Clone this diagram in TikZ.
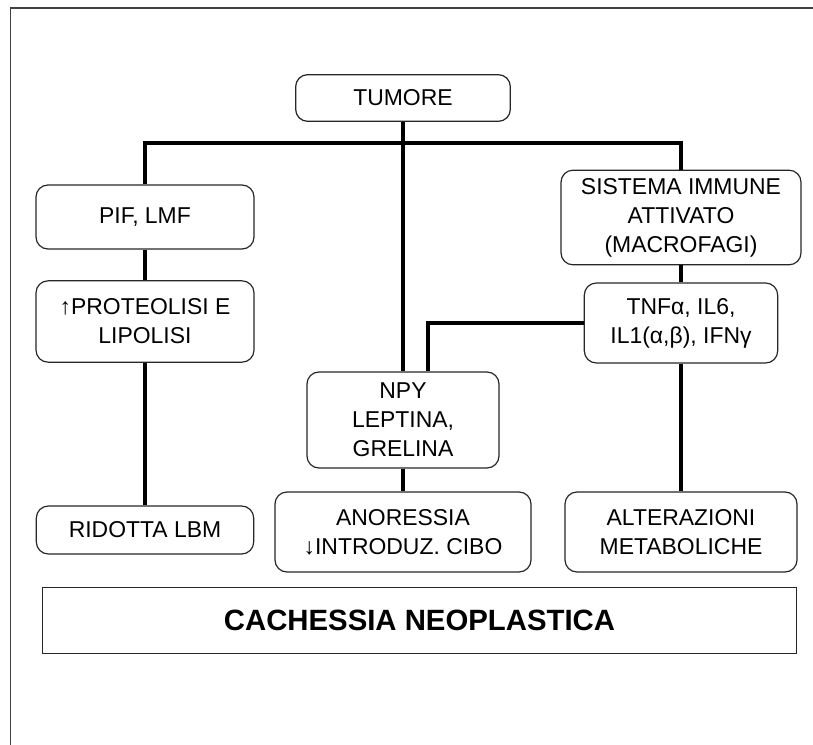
\documentclass[tikz,border=0pt]{standalone}
\usepackage{fontspec}
\setmainfont{Liberation Sans}
\begin{document}
\begin{tikzpicture}[x=0.75pt,y=-0.75pt,
  box/.style={draw=black!85,line width=0.9pt,rounded corners=9pt,align=center,
    font=\fontsize{17.2}{21.8}\selectfont,inner sep=0pt},
  conn/.style={line width=2.3pt,black}]
\path[use as bounding box] (0,0) rectangle (813,745);
% outer frame
\draw[black!75,line width=1.2pt] (10.5,745) -- (10.5,8) -- (813,8);
% nodes
\node[box,minimum width=161pt,minimum height=35pt] (tumore) at (403,98) {TUMORE};
\node[box,minimum width=163.5pt,minimum height=48pt] (pif) at (145,217) {PIF, LMF};
\node[box,minimum width=163.5pt,minimum height=61pt] (prot) at (145,321.5) {↑PROTEOLISI E\\LIPOLISI};
\node[box,minimum width=163pt,minimum height=36pt] (rid) at (145,530) {RIDOTTA LBM};
\node[box,minimum width=180pt,minimum height=71pt] (sist) at (681,217.5) {SISTEMA IMMUNE\\ATTIVATO\\(MACROFAGI)};
\node[box,minimum width=145pt,minimum height=60pt] (tnf) at (681,323) {TNFα, IL6,\\IL1(α,β), IFNγ};
\node[box,minimum width=144pt,minimum height=72pt] (npy) at (403,420) {NPY\\LEPTINA,\\GRELINA};
\node[box,minimum width=192pt,minimum height=60pt] (anor) at (403,532) {ANORESSIA\\↓INTRODUZ. CIBO};
\node[box,minimum width=174pt,minimum height=60pt] (alter) at (681,532) {ALTERAZIONI\\METABOLICHE};
\node[draw=black!85,line width=0.9pt,minimum width=565pt,minimum height=49pt,inner sep=0pt,
  font=\fontsize{22}{26}\selectfont\bfseries] (cach) at (419.5,620.5) {CACHESSIA NEOPLASTICA};
% connectors
\coordinate (j) at (403,143);
\coordinate (k) at (428,323);
\draw[conn] (tumore.south) -- (j);
\draw[conn] (pif.north) |- (j) -| (sist.north);
\draw[conn] (j) -- (npy.north);
\draw[conn] (pif) -- (prot);
\draw[conn] (prot) -- (rid);
\draw[conn] (sist) -- (tnf);
\draw[conn] (tnf) -- (alter);
\draw[conn] (npy) -- (anor);
\draw[conn] (tnf.west) -- (k) -- (k |- npy.north);
\end{tikzpicture}
\end{document}
